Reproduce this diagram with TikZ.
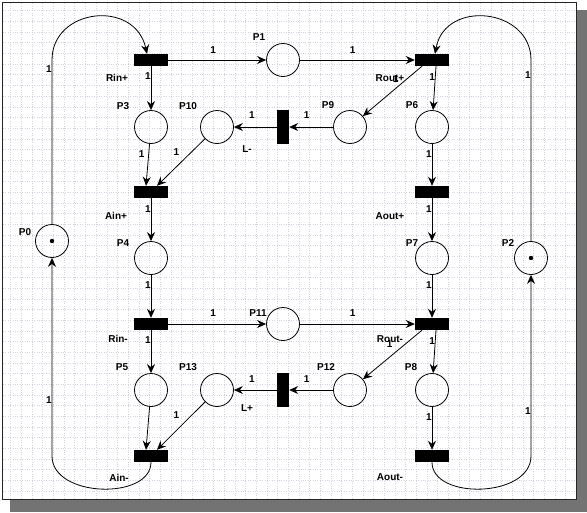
\documentclass[tikz,border=0pt]{standalone}
\usepackage{fontspec}
\setmainfont{Liberation Sans}
\usetikzlibrary{arrows.meta,positioning}
\tikzstyle{place}=[circle, draw, line width=0.8pt, minimum size=33pt, inner sep=0pt]
\tikzstyle{marked}=[place, path picture={\fill (path picture bounding box.center) circle (2.2pt);}]
\tikzstyle{hbar}=[fill=black, minimum width=34pt, minimum height=12pt, inner sep=0pt]
\tikzstyle{vbar}=[fill=black, minimum width=12pt, minimum height=34pt, inner sep=0pt]
\tikzstyle{plabel}=[font=\bfseries\fontsize{10}{11}\selectfont, inner sep=0pt]
\tikzstyle{tlabel}=[plabel]
\tikzstyle{wt}=[plabel]
\tikzstyle{line}=[draw, line width=0.8pt, -{Stealth[length=9pt,width=8pt,inset=3pt]}]
\tikzstyle{gridline}=[draw=blue!20!gray!30, dotted, line width=0.4pt]
\newcommand{\place}[2]{node (p#1) [#2] {}}
\newcommand{\trans}[2]{node (#1) [#2] {}}

\begin{document}
\begin{tikzpicture}[x=1pt, y=-1pt]
\useasboundingbox (0,0) rectangle (587,512);
% Sheet with shadow
\fill [black!55] (10,500) rectangle (587,512);
\fill [black!55] (577,10) rectangle (587,512);
\draw [gridline, step=10.67pt] (3,3) grid (575,498);
\draw [line width=0.8pt, black!85] (2,2) rectangle (576,499);

% Draw places and transitions
\path (151,60)               \trans{rinp}{hbar};
\path (rinp) + (132,0)       \place{1}{place};
\path (rinp) + (281,0)       \trans{routp}{hbar};
\path (rinp) + (0,67)        \place{3}{place};
\path (p3) + (66,0)          \place{10}{place};
\path (p3) + (132,0)         \trans{lm}{vbar};
\path (routp) + (-82,67)     \place{9}{place};
\path (routp) + (0,67)       \place{6}{place};
\path (p3) + (0,65)          \trans{ainp}{hbar};
\path (p6) + (0,65)          \trans{aoutp}{hbar};
\path (ainp) + (0,66)        \place{4}{place};
\path (aoutp) + (0,66)       \place{7}{place};
\path (p4) + (-99,-17)       \place{0}{marked};
\path (p7) + (99,0)          \place{2}{marked};
\path (p4) + (0,66)          \trans{rinm}{hbar};
\path (p7) + (0,66)          \trans{routm}{hbar};
\path (rinm) + (132,0)       \place{11}{place};
\path (rinm) + (0,66)        \place{5}{place};
\path (p5) + (66,0)          \place{13}{place};
\path (p5) + (132,0)         \trans{lp}{vbar};
\path (routm) + (-82,66)     \place{12}{place};
\path (routm) + (0,66)       \place{8}{place};
\path (p5) + (0,66)          \trans{ainm}{hbar};
\path (p8) + (0,66)          \trans{aoutm}{hbar};

% Names of places
\path (p0) + (-27,-9)   node (lp0) [plabel] {P0};
\path (p1) + (-24,-23)  node (lp1) [plabel] {P1};
\path (p2) + (-23,-15)  node (lp2) [plabel] {P2};
\path (p3) + (-28,-21)  node (lp3) [plabel] {P3};
\path (p4) + (-28,-15)  node (lp4) [plabel] {P4};
\path (p5) + (-29,-23)  node (lp5) [plabel] {P5};
\path (p6) + (-20,-22)  node (lp6) [plabel] {P6};
\path (p7) + (-20,-15)  node (lp7) [plabel] {P7};
\path (p8) + (-21,-23)  node (lp8) [plabel] {P8};
\path (p9) + (-22,-22)  node (lp9) [plabel] {P9};
\path (p10) + (-29,-21) node (lp10) [plabel] {P10};
\path (p11) + (-25,-11) node (lp11) [plabel] {P11};
\path (p12) + (-24,-23) node (lp12) [plabel] {P12};
\path (p13) + (-29,-23) node (lp13) [plabel] {P13};

% Names of transitions
\path (rinp) + (-34,18)  node (lrinp) [tlabel] {Rin+};
\path (ainp) + (-35,24)  node (lainp) [tlabel] {Ain+};
\path (rinm) + (-33,15)  node (lrinm) [tlabel] {Rin-};
\path (ainm) + (-32,22)  node (lainm) [tlabel] {Ain-};
\path (routp) + (-42,18) node (lroutp) [tlabel] {Rout+};
\path (aoutp) + (-42,24) node (laoutp) [tlabel] {Aout+};
\path (routm) + (-42,15) node (lroutm) [tlabel] {Rout-};
\path (aoutm) + (-42,21) node (laoutm) [tlabel] {Aout-};
\path (lm) + (-36,22)    node (llm) [tlabel] {L-};
\path (lp) + (-36,18)    node (llp) [tlabel] {L+};

% Draw arcs between places and transitions
\path [line] (p0) -- node [wt, pos=.945, left=0pt] {1} (p0 |- rinp)
  .. controls +(0,-52) and +(-12,-55) .. ([xshift=-4pt]rinp.north);
\path [line] (p2) -- node [wt, pos=.917, left=0pt] {1} (p2 |- routp)
  .. controls +(0,-52) and +(10,-55) .. ([xshift=3pt]routp.north);
\path [line] (ainm.south) .. controls +(0,38) and +(0,42) .. (p0 |- ainm)
  -- node [wt, pos=.28, left=0pt] {1} (p0);
\path [line] (aoutm.south) .. controls +(0,38) and +(0,42) .. (p2 |- aoutm)
  -- node [wt, pos=.25, left=0pt] {1} (p2);

\path [line] (rinp) -- node [wt, pos=.46, above=6.4pt] {1} (p1);
\path [line] (p1) -- node [wt, pos=.46, above=6.4pt] {1} (routp);
\path [line] (rinp) -- node [wt, pos=.22, left=0pt] {1} (p3);
\path [line] ([xshift=4pt]routp.south) -- node [wt, pos=.25, left=0pt] {1} (p6);
\path [line] ([xshift=-10pt]routp.south) -- node [wt, pos=.26, left=7.8pt] {1} (p9);
\path [line] (p9) -- node [wt, pos=.6, above=8.4pt] {1} (lm);
\path [line] (lm) -- node [wt, pos=.58, above=8.4pt] {1} (p10);
\path [line] (p3) -- node [wt, pos=.25, left=3.8pt] {1} ([xshift=-5pt]ainp.north);
\path [line] (p10) -- node [wt, pos=.28, left=12pt] {1} ([xshift=6pt]ainp.north);
\path [line] (p6) -- node [wt, pos=.25, left=0pt] {1} (aoutp);
\path [line] (ainp) -- node [wt, pos=.25, left=0pt] {1} (p4);
\path [line] (aoutp) -- node [wt, pos=.25, left=0pt] {1} (p7);

\path [line] (p4) -- node [wt, pos=.24, left=0pt] {1} (rinm);
\path [line] (p7) -- node [wt, pos=.24, left=0pt] {1} (routm);
\path [line] (rinm) -- node [wt, pos=.46, above=6.9pt] {1} (p11);
\path [line] (p11) -- node [wt, pos=.46, above=6.9pt] {1} (routm);
\path [line] (rinm) -- node [wt, pos=.23, left=0pt] {1} (p5);
\path [line] ([xshift=4pt]routm.south) -- node [wt, pos=.25, left=0pt] {1} (p8);
\path [line] ([xshift=-10pt]routm.south) -- node [wt, pos=.28, left=12.6pt] {1} (p12);
\path [line] (p12) -- node [wt, pos=.6, above=7.4pt] {1} (lp);
\path [line] (lp) -- node [wt, pos=.58, above=7.4pt] {1} (p13);
\path [line] (p5) -- ([xshift=-5pt]ainm.north);
\path [line] (p13) -- node [wt, pos=.275, left=12.2pt] {1} ([xshift=6pt]ainm.north);
\path [line] (p8) -- node [wt, pos=.24, left=0pt] {1} (aoutm);

\end{tikzpicture}
\end{document}
